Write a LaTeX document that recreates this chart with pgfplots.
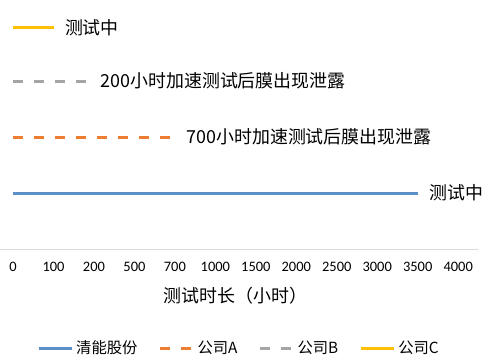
\documentclass[border=0pt]{standalone}
\usepackage{fontspec}
\setmainfont{Carlito}
\newfontfamily\cjk{Noto Sans CJK SC}
\usepackage{pgfplots}
\pgfplotsset{compat=1.18}
\definecolor{cBlue}{RGB}{91,143,199}
\definecolor{cOrange}{RGB}{237,125,49}
\definecolor{cGray}{RGB}{165,165,165}
\definecolor{cYellow}{RGB}{255,192,0}
\definecolor{axgray}{RGB}{217,217,217}
\begin{document}
\begin{tikzpicture}[x=1bp,y=1bp]
\useasboundingbox (0,0) rectangle (486,360);
\begin{axis}[
  at={(-7.2bp,111bp)}, anchor=south west,
  scale only axis, width=485.6bp, height=249bp,
  xmin=-0.5, xmax=11.5, ymin=0, ymax=4.45,
  axis y line=none,
  axis x line*=bottom,
  x axis line style={draw=axgray, line width=0.8bp, -},
  xtick={0,...,11},
  xticklabels={0,100,200,500,700,1000,1500,2000,2500,3000,3500,4000},
  major tick length=0pt,
  xticklabel style={font=\fontsize{14.5}{16}\selectfont, yshift=-10bp},
  xlabel={\cjk 测试时长（小时）},
  xlabel style={font=\fontsize{18}{20}\selectfont, yshift=-8bp},
  clip=false,
  legend columns=-1,
  legend style={at={(44.2bp,-99bp)}, anchor=west, draw=none, fill=none,
    font=\cjk\fontsize{15.4}{17}\selectfont,
    /tikz/every odd column/.append style={column sep=1bp},
    /tikz/every even column/.append style={column sep=19bp},
    inner sep=0pt},
  legend image code/.code={\draw[#1] (0bp,0bp) -- (33bp,0bp);},
]
\addplot[cBlue, line width=3bp] coordinates {(0,1) (10,1)};
\addlegendentry{清能股份}
\addplot[cOrange, line width=3bp, dash pattern=on 10bp off 11bp] coordinates {(0,2) (4,2)};
\addlegendentry{公司A}
\addplot[cGray, line width=3bp, dash pattern=on 10bp off 11bp] coordinates {(0,3) (2,3)};
\addlegendentry{公司B}
\addplot[cYellow, line width=3bp] coordinates {(0,3.96) (1,3.96)};
\addlegendentry{公司C}
\node[anchor=west, font=\cjk\fontsize{18}{20}\selectfont, xshift=8bp] at (axis cs:10,1) {测试中};
\node[anchor=west, font=\cjk\fontsize{18}{20}\selectfont, xshift=8bp] at (axis cs:4,2) {700小时加速测试后膜出现泄露};
\node[anchor=west, font=\cjk\fontsize{18}{20}\selectfont, xshift=3bp] at (axis cs:2,3) {200小时加速测试后膜出现泄露};
\node[anchor=west, font=\cjk\fontsize{18}{20}\selectfont, xshift=8bp] at (axis cs:1,3.96) {测试中};
\end{axis}
\end{tikzpicture}
\end{document}
